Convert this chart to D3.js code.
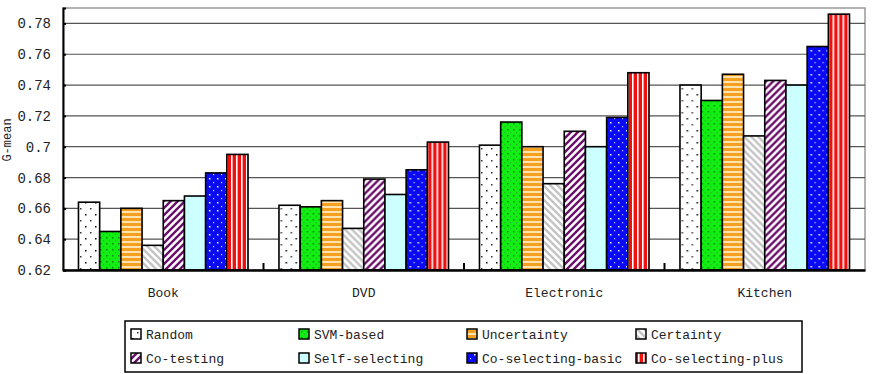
<!DOCTYPE html>
<html><head><meta charset="utf-8">
<script src="https://cdn.jsdelivr.net/npm/d3@7"></script>
<style>body{margin:0;background:#fff}svg{display:block}text{font-family:"Liberation Mono","DejaVu Sans Mono",monospace}</style>
</head><body>
<script>
const categories = ["Book", "DVD", "Electronic", "Kitchen"];
const seriesNames = ["Random", "SVM-based", "Uncertainty", "Certainty", "Co-testing", "Self-selecting", "Co-selecting-basic", "Co-selecting-plus"];
const random        = [0.664, 0.662, 0.701, 0.740];
const svmBased      = [0.645, 0.661, 0.716, 0.730];
const uncertainty   = [0.660, 0.665, 0.700, 0.747];
const certainty     = [0.636, 0.647, 0.676, 0.707];
const coTesting     = [0.665, 0.679, 0.710, 0.743];
const selfSelecting = [0.668, 0.669, 0.700, 0.740];
const coSelBasic    = [0.683, 0.685, 0.719, 0.765];
const coSelPlus     = [0.695, 0.703, 0.748, 0.786];
const yTicks = [0.62, 0.64, 0.66, 0.68, 0.7, 0.72, 0.74, 0.76, 0.78];
const allSeries = [random, svmBased, uncertainty, certainty, coTesting, selfSelecting, coSelBasic, coSelPlus];

const W = 886, H = 374;
const m = {left: 63, top: 8, right: 21, bottom: 104};
const w = W - m.left - m.right, h = H - m.top - m.bottom;
const svg = d3.select("body").append("svg").attr("width", W).attr("height", H);
const defs = svg.append("defs");

function pat(id, pw, ph, bg, draw) {
  const p = defs.append("pattern").attr("id", id).attr("patternUnits", "userSpaceOnUse").attr("width", pw).attr("height", ph);
  p.append("rect").attr("width", pw).attr("height", ph).attr("fill", bg);
  draw(p);
}
pat("p0", 10, 12, "#fff", p => { p.append("rect").attr("x",2).attr("y",2).attr("width",1.5).attr("height",1.5).attr("fill","#000"); p.append("rect").attr("x",7).attr("y",8).attr("width",1.5).attr("height",1.5).attr("fill","#333"); });
pat("p1", 6, 6, "#11ee11", p => { p.append("rect").attr("x",1).attr("y",1).attr("width",1.5).attr("height",1.5).attr("fill","#118811"); p.append("rect").attr("x",4).attr("y",4).attr("width",1.2).attr("height",1.2).attr("fill","#33aa33"); });
pat("p2", 5, 5, "#f5a020", p => { p.append("rect").attr("x",0).attr("y",3).attr("width",5).attr("height",2).attr("fill","#ffe4b0"); });
pat("p3", 7, 7, "#fff", p => { p.append("path").attr("d","M-1,-1 L8,8 M-1,6 L1,8 M6,-1 L8,1").attr("stroke","#c4c4c4").attr("stroke-width",2.4); });
pat("p4", 7, 7, "#fff", p => { p.append("path").attr("d","M-1,8 L8,-1 M-1,1 L1,-1 M6,8 L8,6").attr("stroke","#6a106a").attr("stroke-width",2.4); });
pat("p5", 4, 4, "#ccffff", p => {});
pat("p6", 8, 8, "#0a0af5", p => { p.append("rect").attr("x",2).attr("y",2).attr("width",1.5).attr("height",1.5).attr("fill","#fff"); p.append("rect").attr("x",6).attr("y",6).attr("width",1.2).attr("height",1.2).attr("fill","#ccccff"); });
pat("p7", 5, 5, "#f01010", p => { p.append("rect").attr("x",3).attr("y",0).attr("width",1.6).attr("height",5).attr("fill","#fff"); });

const g = svg.append("g").attr("transform", `translate(${m.left},${m.top})`);
const y = d3.scaleLinear().domain([0.62, 0.79]).range([h, 0]);
const x0 = d3.scaleBand().domain(categories).range([0, w]).padding(0);
const x1 = d3.scaleBand().domain(seriesNames).range([0, x0.bandwidth()]).paddingInner(0).paddingOuter(0.73);

g.append("rect").attr("x",0).attr("y",0).attr("width",w).attr("height",h).attr("fill","none").attr("stroke","#999").attr("stroke-width",1.5);
g.selectAll(".grid").data(yTicks.slice(1)).enter().append("line")
  .attr("x1",0).attr("x2",w).attr("y1",d=>y(d)).attr("y2",d=>y(d)).attr("stroke","#555").attr("stroke-width",1.2);

const groups = g.selectAll(".cat").data(categories).enter().append("g").attr("transform", c => `translate(${x0(c)},0)`);
groups.selectAll("rect").data((c, ci) => seriesNames.map((s, si) => ({s, si, v: allSeries[si][ci]}))).enter().append("rect")
  .attr("x", d => x1(d.s)).attr("width", x1.bandwidth())
  .attr("y", d => y(d.v)).attr("height", d => h - y(d.v))
  .attr("fill", d => `url(#p${d.si})`).attr("stroke", "#000").attr("stroke-width", 1.6);

const ya = g.append("g").call(d3.axisLeft(y).tickValues(yTicks).tickSize(-3).tickPadding(12).tickFormat(d => d === 0.7 ? "0.7" : d3.format(".2f")(d)));
ya.select(".domain").attr("stroke","#000").attr("stroke-width",2);
ya.selectAll("text").attr("font-size",14).attr("fill","#222");
ya.selectAll(".tick line").attr("stroke","#000").attr("stroke-width",2);

const xa = g.append("g").attr("transform",`translate(0,${h})`).call(d3.axisBottom(x0).tickSize(0).tickPadding(18));
xa.select(".domain").attr("stroke","#000").attr("stroke-width",2.5);
xa.selectAll("text").attr("font-size",13).attr("fill","#222");
g.selectAll(".sep").data(categories.slice(1)).enter().append("line")
  .attr("x1", c => x0(c)).attr("x2", c => x0(c)).attr("y1", h).attr("y2", h - 7).attr("stroke","#000").attr("stroke-width",2);

svg.append("text").attr("transform","translate(11,140) rotate(-90)").attr("text-anchor","middle").attr("font-size",12).attr("fill","#222").text("G-mean");

const lg = svg.append("g");
lg.append("rect").attr("x",125).attr("y",321).attr("width",677).attr("height",51).attr("fill","#fff").attr("stroke","#000").attr("stroke-width",1.5);
const colX = [131, 299, 467, 636];
seriesNames.forEach((s, i) => {
  const cx = colX[i % 4], cy = i < 4 ? 334 : 358;
  lg.append("rect").attr("x", cx).attr("y", cy - 5).attr("width", 10).attr("height", 10).attr("fill", `url(#p${i})`).attr("stroke","#000").attr("stroke-width",1.5);
  lg.append("text").attr("x", cx + 15).attr("y", cy + 5).attr("font-size", 13).attr("fill","#222").text(s);
});
</script>
</body></html>
